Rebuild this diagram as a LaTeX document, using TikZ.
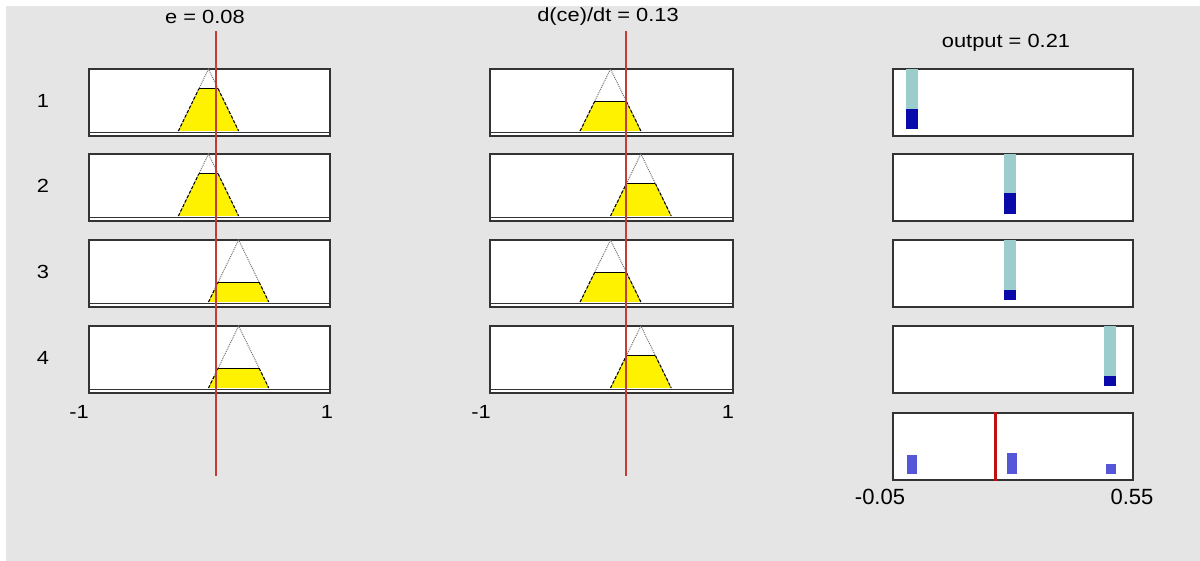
\documentclass[tikz,border=0pt]{standalone}
\usepackage{fontspec}
\setmainfont{Liberation Sans}
\usetikzlibrary{positioning,calc}

\definecolor{panelbg}{HTML}{E5E5E5}
\definecolor{boxline}{HTML}{333333}
\definecolor{mfyellow}{HTML}{FFF200}
\definecolor{cutred}{HTML}{C43C36}
\definecolor{barteal}{HTML}{9CCDCD}
\definecolor{bardark}{HTML}{0A0AAA}
\definecolor{barmid}{HTML}{5656D8}
\definecolor{outred}{HTML}{C01010}

\begin{document}
\begin{tikzpicture}[
        x=1pt, y=1pt,
        lbl/.style={inner sep=0pt, font=\fontsize{19}{22}\selectfont, xscale=1.15, transform shape},
        axlbl/.style={inner sep=0pt, font=\fontsize{22}{26}\selectfont},
        mfbox/.style={draw=boxline, fill=white, line width=1.7pt, anchor=north west, inner sep=0pt,
                      minimum width=241pt, minimum height=67pt},
        outbox/.style={mfbox, minimum width=240pt},
        mfline/.style={black!55, densely dotted, line width=1pt},
        cutside/.style={black, densely dashed, line width=1pt},
        redline/.style={cutred, line width=1.6pt}
      ]
      % background
      \useasboundingbox (0,0) rectangle (1200,-561);
      \fill[white] (0,0) rectangle (1200,-561);
      \fill[panelbg] (6,-6) rectangle (1200,-561);
      % titles
      \node[lbl] (etitle)   at (205,-17)  {e = 0.08};
      \node[lbl] (dtitle)   at (608,-17)  {d(ce)/dt = 0.13};
      \node[lbl] (outtitle) at (1006,-43) {output = 0.21};
      % input and output boxes, one row per rule
      \foreach \n/\tp in {1/68,2/153,3/239,4/325} {
        \node[lbl] (row\n) at (43,{-\tp-33}) {\n};
        \node[mfbox] (e\n) at (88,-\tp) {};
        \node[mfbox, minimum width=243pt] (d\n) at (489,-\tp) {};
        \node[outbox] (o\n) at (892,-\tp) {};
        \draw[boxline, line width=1.4pt] ($(e\n.south west)+(0,4)$) -- ($(e\n.south east)+(0,4)$);
        \draw[boxline, line width=1.4pt] ($(d\n.south west)+(0,4)$) -- ($(d\n.south east)+(0,4)$);
      }
      \node[outbox] (agg) at (892,-412) {};
      % membership functions: column origin / scale / row top / left foot / degree
      \foreach \xo/\sc/\tp/\ft/\m in {88/120.5/68/-0.25/0.68, 88/120.5/153/-0.25/0.68,
                                     88/120.5/239/0/0.32, 88/120.5/325/0/0.32,
                                     489/121.5/68/-0.25/0.48, 489/121.5/153/0/0.52,
                                     489/121.5/239/-0.25/0.48, 489/121.5/325/0/0.52} {
        \pgfmathsetmacro\xa{\xo+(\ft+1)*\sc}
        \pgfmathsetmacro\w{0.25*\sc}
        \pgfmathsetmacro\yb{-\tp-63}
        \pgfmathsetmacro\ym{\yb+\m*62}
        \fill[mfyellow] (\xa,\yb) -- ({\xa+\m*\w},\ym) -- ({\xa+(2-\m)*\w},\ym) -- ({\xa+2*\w},\yb) -- cycle;
        \draw[mfline] (\xa,\yb) -- ({\xa+\w},{\yb+62}) -- ({\xa+2*\w},\yb);
        \draw[cutside] (\xa,\yb) -- ({\xa+\m*\w},\ym);
        \draw[cutside] ({\xa+(2-\m)*\w},\ym) -- ({\xa+2*\w},\yb);
        \draw[black, line width=1.1pt] ({\xa+\m*\w},\ym) -- ({\xa+(2-\m)*\w},\ym);
      }
      % output singletons: row top / position / weight
      \foreach \tp/\xc/\wt in {68/912/0.33, 153/1010/0.35, 239/1010/0.16, 325/1110/0.17} {
        \fill[barteal] (\xc-6,-\tp-1) rectangle (\xc+6,-\tp-61);
        \fill[bardark] (\xc-6,-\tp-61) rectangle (\xc+6,{-\tp-61+\wt*61});
      }
      % aggregated output
      \foreach \xc/\ht in {912/19, 1012/21, 1111/10} {
        \fill[barmid] (\xc-5,-474) rectangle (\xc+5,{-474+\ht});
      }
      \draw[outred, line width=3pt] ($(agg.north west)+(103,0)$) -- ($(agg.south west)+(103,0)$);
      % input values
      \coordinate (etop) at (216,-31);
      \coordinate (ebot) at (216,-476);
      \coordinate (dtop) at (626,-31);
      \coordinate (dbot) at (626,-476);
      \draw[redline] (etop) -- (ebot);
      \draw[redline] (dtop) -- (dbot);
      % axis ranges
      \node[lbl] (emin) at (79,-412)  {-1};
      \node[lbl] (emax) at (327,-412) {1};
      \node[lbl] (dmin) at (481,-412) {-1};
      \node[lbl] (dmax) at (728,-412) {1};
      \node[axlbl] (omin) at (880,-497)  {-0.05};
      \node[axlbl] (omax) at (1132,-497) {0.55};
    \end{tikzpicture}
\end{document}
